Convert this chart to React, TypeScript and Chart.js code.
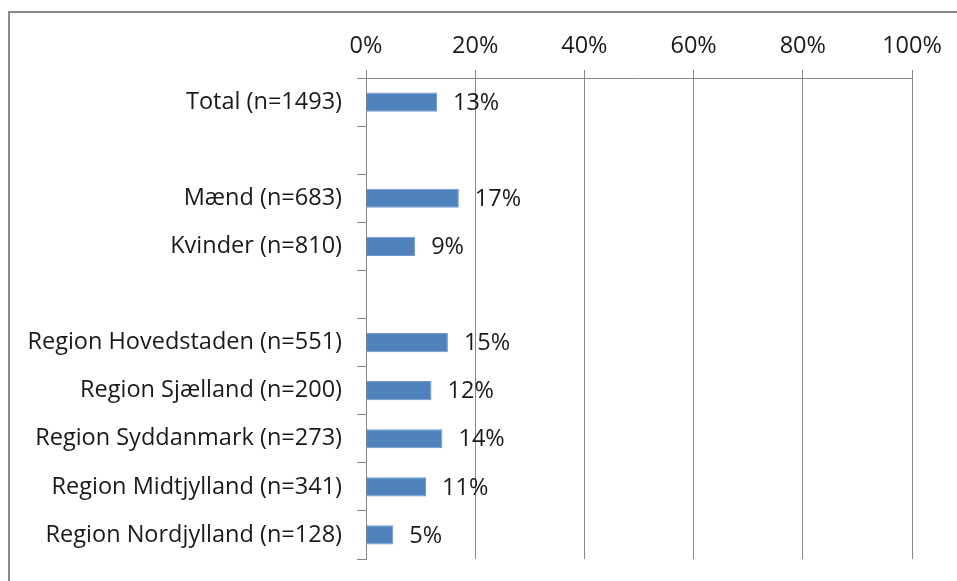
import React, { useEffect, useRef } from "react";
import { Chart, registerables } from "chart.js";

Chart.register(...registerables);

const categories = [
  "Total (n=1493)",
  "",
  "Mænd (n=683)",
  "Kvinder (n=810)",
  "",
  "Region Hovedstaden (n=551)",
  "Region Sjælland (n=200)",
  "Region Syddanmark (n=273)",
  "Region Midtjylland (n=341)",
  "Region Nordjylland (n=128)",
];

const values: (number | null)[] = [13, null, 17, 9, null, 15, 12, 14, 11, 5];

const xTicks = [0, 20, 40, 60, 80, 100];

const FONT_FAMILY = "'Open Sans', sans-serif";
const FONT_SIZE = 23.5;
const TEXT_COLOR = "#1a1a1a";
const LINE_COLOR = "#888888";
const BAR_COLOR = "#4F81BD";

const framePlugin = {
  id: "frame",
  beforeDraw(chart: any) {
    const ctx = chart.ctx;
    ctx.save();
    ctx.fillStyle = "#ffffff";
    ctx.fillRect(0, 0, chart.width, chart.height);
    ctx.strokeStyle = "#8a8a8a";
    ctx.lineWidth = 2;
    ctx.strokeRect(9, 12, 1400, 1400);
    ctx.restore();
  },
};

const valueLabelPlugin = {
  id: "valueLabels",
  afterDatasetsDraw(chart: any) {
    const ctx = chart.ctx;
    const meta = chart.getDatasetMeta(0);
    ctx.save();
    ctx.font = `${FONT_SIZE}px ${FONT_FAMILY}`;
    ctx.fillStyle = TEXT_COLOR;
    ctx.textAlign = "left";
    ctx.textBaseline = "middle";
    meta.data.forEach((bar: any, i: number) => {
      const v = values[i];
      if (v === null || v === undefined) return;
      ctx.fillText(`${v}%`, bar.x + 16, bar.y + 1);
    });
    ctx.restore();
  },
};

export default function App() {
  const canvasRef = useRef<HTMLCanvasElement | null>(null);

  useEffect(() => {
    document.body.style.margin = "0";
    const canvas = canvasRef.current;
    if (!canvas) return;
    const chart = new Chart(canvas, {
      type: "bar",
      data: {
        labels: categories,
        datasets: [
          {
            data: values as any,
            backgroundColor: BAR_COLOR,
            borderColor: "#6f97cc",
            borderWidth: 1,
            categoryPercentage: 1,
            barPercentage: 0.4,
          },
        ],
      },
      options: {
        indexAxis: "y",
        responsive: false,
        animation: false,
        layout: { padding: { left: 0, top: 0, right: 45, bottom: 22 } },
        plugins: {
          legend: { display: false },
          tooltip: { enabled: false },
          title: { display: false },
        },
        scales: {
          x: {
            type: "linear",
            position: "top",
            min: xTicks[0],
            max: xTicks[xTicks.length - 1],
            afterBuildTicks: (scale: any) => {
              scale.ticks = xTicks.map((v) => ({ value: v }));
            },
            afterFit: (scale: any) => {
              scale.height = 78;
              scale.paddingLeft = 0;
              scale.paddingRight = 0;
            },
            ticks: {
              callback: (v: any) => `${v}%`,
              font: { family: FONT_FAMILY, size: FONT_SIZE },
              color: TEXT_COLOR,
              padding: 10,
              maxRotation: 0,
            },
            grid: {
              color: LINE_COLOR,
              lineWidth: 1,
              tickLength: 8,
              drawTicks: true,
            },
            border: { display: true, color: LINE_COLOR, width: 1 },
          },
          y: {
            type: "category",
            afterFit: (scale: any) => {
              scale.width = 366;
              scale.paddingTop = 0;
              scale.paddingBottom = 0;
            },
            ticks: {
              font: { family: FONT_FAMILY, size: FONT_SIZE },
              color: TEXT_COLOR,
              padding: 15,
              autoSkip: false,
            },
            grid: {
              offset: true,
              drawOnChartArea: false,
              drawTicks: true,
              tickLength: 9,
              color: LINE_COLOR,
              lineWidth: 1,
            },
            border: { display: true, color: LINE_COLOR, width: 1 },
          },
        },
      },
      plugins: [framePlugin, valueLabelPlugin],
    });
    return () => chart.destroy();
  }, []);

  return (
    <div style={{ width: 957, height: 581 }}>
      <canvas ref={canvasRef} width={957} height={581} />
    </div>
  );
}
